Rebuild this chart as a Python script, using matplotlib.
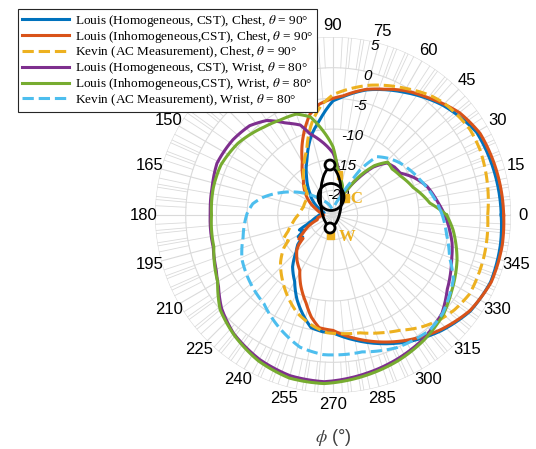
import numpy as np
import matplotlib
matplotlib.use('Agg')
import matplotlib.pyplot as plt
from matplotlib.patches import Ellipse, Rectangle

plt.rcParams['font.family'] = ['Liberation Sans', 'DejaVu Sans']
plt.rcParams['mathtext.fontset'] = 'stix'

# ---- data (phi in degrees, gain in dB) ----
blue_phi = [0, 15, 30, 45, 60, 75, 86, 90, 98, 105, 115, 125, 135, 145, 155, 165, 175, 185, 195,
            200, 204, 208, 212, 216, 220, 225, 232, 240, 247, 255, 259, 265, 270, 280, 290, 300,
            313, 325, 337, 350, 360]
blue_db = [3.4, 3.2, 3.0, 1.3, -0.9, -2.9, -4.8, -5.4, -8.4, -10.5, -14, -16.5, -18.5, -20, -21.5,
           -22.5, -22, -21.5, -20.5, -19.5, -18.0, -18.6, -17.3, -17.9, -16.5, -15.5, -13.3, -11.5,
           -9.0, -6.5, -5.3, -4.9, -4.8, -3.3, -1.7, -0.1, 1.8, 3.3, 3.9, 3.7, 3.4]

orange_phi = [0, 15, 29, 39, 51, 60, 68, 75, 85, 90, 97, 103, 111, 120, 130, 140, 150, 160, 170,
              180, 190, 197, 205, 211, 215, 218, 221, 224, 232, 239, 245, 253, 258, 263, 270, 280,
              290, 300, 313, 325, 337, 350, 360]
orange_db = [3.8, 3.6, 3.4, 2.5, 0.6, -0.6, -1.9, -2.8, -4.5, -5.0, -5.8, -7.2, -10.4, -14, -16.5,
             -18, -19.5, -21, -22, -22.5, -21.5, -21.3, -19.5, -18.3, -17.2, -17.8, -16.6, -15.8,
             -14.5, -13.5, -11.5, -9.0, -7.0, -5.5, -5.2, -3.6, -2.0, -0.4, 1.6, 3.2, 4.0, 4.0, 3.8]

yellow_phi = [0, 10, 24, 32, 45, 51, 60, 74, 82, 90, 96, 102, 112, 122, 130, 140, 150, 165, 178,
              191, 200, 206, 210, 214, 222, 232, 240, 250, 260, 267, 275, 283, 292, 300, 308, 315,
              322, 330, 345, 360]
yellow_db = [1.2, 1.6, 2.2, 2.3, 1.7, 1.1, -0.2, -2.0, -3.2, -4.4, -6.0, -8.2, -12.6, -15, -16.5,
             -18.5, -19, -19, -18.5, -17.3, -16.2, -15.0, -15.6, -14.3, -12.5, -10.6, -9.0, -7.0,
             -5.6, -4.8, -4.6, -4.3, -3.3, -2.3, -0.8, 0.3, 1.1, 1.7, 1.5, 1.2]

purple_phi = [0, 7, 17, 25, 32, 38, 44, 50, 56, 62, 67, 72, 80, 84, 90, 100, 106, 110, 117, 125,
              133, 143, 156, 167, 179, 195, 205, 212, 220, 230, 243, 255, 267, 283, 294, 306, 318,
              327, 339, 347, 360]
purple_db = [-5.8, -6.8, -8.0, -9.5, -11.1, -11.3, -11.8, -13.8, -17, -19.8, -21, -19.5, -17.7,
             -16.2, -13.9, -11.6, -10.2, -8.4, -7.2, -5.2, -4.1, -3.6, -3.3, -3.8, -4.0, -3.8, -3.0,
             -2.0, -0.3, 1.2, 2.4, 3.1, 3.2, 2.3, 1.7, 1.0, -0.1, -1.8, -3.3, -4.1, -5.8]

green_phi = [0, 7, 19, 30, 38, 44, 50, 55, 60, 66, 72, 78, 85, 90, 97, 103, 110, 119, 128, 143,
             156, 167, 180, 195, 210, 220, 231, 243, 255, 267, 283, 294, 306, 318, 327, 340, 353, 360]
green_db = [-5.5, -8.1, -10.2, -11.3, -11.8, -11.6, -13.5, -16, -19, -21, -19, -18, -16.2, -12.9,
            -10.1, -7.6, -6.5, -6.3, -5.8, -4.6, -4.0, -4.0, -4.2, -3.9, -2.3, 0.0, 1.4, 2.7, 3.5,
            3.5, 2.6, 2.0, 1.2, 0.2, -1.0, -2.5, -4.3, -5.5]

cyan_phi = [0, 7, 22, 38, 45, 53, 59, 62, 68, 80, 100, 120, 130, 139, 150, 157, 166, 172, 179, 194,
            206, 219, 232, 243, 256, 266, 282, 296, 310, 318, 332, 340, 350, 360]
cyan_db = [-6.2, -7.0, -8.7, -10.2, -11.0, -12.1, -15.4, -18.1, -21, -22.5, -23, -21.5, -20.5, -19,
           -16.5, -14.7, -12.2, -10.8, -10.0, -8.9, -7.5, -6.6, -5.7, -3.9, -1.8, -1.2, -1.2, 0.0,
           0.5, 0.0, -1.8, -3.8, -5.2, -6.2]

labels = ['Louis (Homogeneous, CST), Chest, $\\theta$ = 90°',
          'Louis (Inhomogeneous,CST), Chest, $\\theta$ = 90°',
          'Kevin (AC Measurement), Chest, $\\theta$ = 90°',
          'Louis (Homogeneous, CST), Wrist, $\\theta$ = 80°',
          'Louis (Inhomogeneous,CST), Wrist, $\\theta$ = 80°',
          'Kevin (AC Measurement), Wrist, $\\theta$ = 80°']

r_ticks = [-20, -15, -10, -5, 0, 5]
r_min, r_max = -24, 5

fig = plt.figure(figsize=(5.36, 4.49), dpi=100)
ax = fig.add_axes([0.2892, 0.1247, 0.6642, 0.7929], projection='polar')
ax.set_ylim(r_min, r_max)
ax.grid(False)
ax.spines['polar'].set_visible(False)

# grid drawn by hand: rings + spokes that get denser toward the rim
gc = '#dadada'
tt = np.linspace(0, 2 * np.pi, 400)
for r in r_ticks:
    ax.plot(tt, np.full_like(tt, r), color=gc, lw=0.8, zorder=0)
for a in range(0, 360, 15):
    ax.plot([np.deg2rad(a)] * 2, [r_min, r_max], color=gc, lw=0.8, zorder=0)
for a in range(0, 360, 5):
    if a % 15:
        ax.plot([np.deg2rad(a)] * 2, [-10, r_max], color=gc, lw=0.6, zorder=0)
for a in range(0, 360, 3):
    if a % 5 and a % 15:
        ax.plot([np.deg2rad(a)] * 2, [0, r_max], color=gc, lw=0.6, zorder=0)

ax.set_thetagrids(range(0, 360, 15), [str(a) for a in range(0, 360, 15)], fontsize=12)
ax.tick_params(axis='x', pad=-2)
ax.set_rticks(r_ticks)
ax.set_yticklabels([])
for r in r_ticks:
    ax.text(np.deg2rad(76), r - 0.7, str(r), fontsize=11, fontstyle='italic',
            ha='center', va='center', zorder=2)

cols = ['#0072BD', '#D95319', '#EDB120', '#7E2F8E', '#77AC30', '#4DBEEE']
series = [(blue_phi, blue_db, '-'), (orange_phi, orange_db, '-'), (yellow_phi, yellow_db, '--'),
          (purple_phi, purple_db, '-'), (green_phi, green_db, '-'), (cyan_phi, cyan_db, '--')]
handles = []
for (ph, db, ls), c, lab in zip(series, cols, labels):
    h, = ax.plot(np.deg2rad(ph), db, ls, color=c, lw=2.2, label=lab, zorder=3)
    h.get_path()._interpolation_steps = 12   # draw segments along polar arcs
    handles.append(h)

# body icon overlay (pixel coords)
ov = fig.add_axes([0, 0, 1, 1], facecolor='none')
ov.set_xlim(0, 536)
ov.set_ylim(449, 0)
ov.axis('off')
ov.add_patch(Rectangle((337, 171), 5, 8, color='#EDB120'))
ov.add_patch(Rectangle((343, 194), 6, 8, color='#EDB120'))
ov.add_patch(Rectangle((327, 232), 7, 7, color='#EDB120'))
ov.text(350, 199, 'C', color='#EDB120', fontsize=12, fontweight='bold', family='Liberation Serif', va='center')
ov.text(339, 237, 'W', color='#EDB120', fontsize=12, fontweight='bold', family='Liberation Serif', va='center')
ov.add_patch(Ellipse((331, 197), 21, 59, fill=False, ec='black', lw=2))
ov.add_patch(Ellipse((331, 197), 26, 27, fill=False, ec='black', lw=2))
ov.add_patch(Ellipse((330, 165), 10, 10, fc='white', ec='black', lw=2))
ov.add_patch(Ellipse((330, 228), 10, 10, fc='white', ec='black', lw=2))

fig.text(333 / 536, 1 - 437 / 449, '$\\phi$ (°)', ha='center', va='center', fontsize=13, color='#404040')

leg = fig.legend(handles=handles, loc='upper left', bbox_to_anchor=(18 / 536, 1 - 9 / 449),
                 prop={'family': 'Liberation Serif', 'size': 9.5}, handlelength=3.6,
                 labelspacing=0.0, borderpad=0.3, handletextpad=0.4, borderaxespad=0,
                 fancybox=False, edgecolor='#262626', framealpha=1)
leg.get_frame().set_linewidth(0.8)

fig.savefig('out.png', dpi=100)
